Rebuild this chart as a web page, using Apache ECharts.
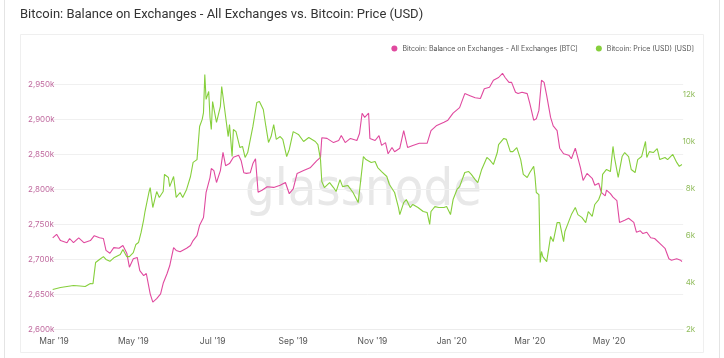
<!DOCTYPE html>
<html><head><meta charset="utf-8">
<script src="https://cdn.jsdelivr.net/npm/echarts@6/dist/echarts.min.js"></script>
<style>html,body{margin:0;padding:0;background:#fff}#c{width:724px;height:358px}</style>
</head><body><div id="c"></div>
<script>
const titleText = 'Bitcoin: Balance on Exchanges - All Exchanges vs. Bitcoin: Price (USD)';
const balanceName = 'Bitcoin: Balance on Exchanges - All Exchanges [BTC]';
const priceName = 'Bitcoin: Price (USD) [USD]';
const watermarkText = 'glassnode';

const balanceDates = ['2019-02-28','2019-03-03','2019-03-06','2019-03-11','2019-03-13','2019-03-16','2019-03-20','2019-03-24','2019-03-29','2019-04-01','2019-04-05','2019-04-08','2019-04-10','2019-04-13','2019-04-16','2019-04-20','2019-04-23','2019-04-26','2019-04-28','2019-05-01','2019-05-04','2019-05-06','2019-05-09','2019-05-11','2019-05-14','2019-05-16','2019-05-19','2019-05-22','2019-05-24','2019-05-27','2019-05-29','2019-06-01','2019-06-03','2019-06-06','2019-06-11','2019-06-14','2019-06-16','2019-06-19','2019-06-21','2019-06-24','2019-06-26','2019-06-29','2019-06-30','2019-07-02','2019-07-04','2019-07-07','2019-07-09','2019-07-11','2019-07-14','2019-07-17','2019-07-21','2019-07-23','2019-07-25','2019-07-27','2019-07-30','2019-08-01','2019-08-03','2019-08-05','2019-08-08','2019-08-12','2019-08-17','2019-08-22','2019-08-26','2019-08-29','2019-09-01','2019-09-04','2019-09-09','2019-09-14','2019-09-19','2019-09-22','2019-09-23','2019-09-27','2019-10-02','2019-10-06','2019-10-08','2019-10-11','2019-10-15','2019-10-20','2019-10-22','2019-10-24','2019-10-26','2019-10-29','2019-10-30','2019-11-03','2019-11-06','2019-11-08','2019-11-11','2019-11-13','2019-11-16','2019-11-18','2019-11-22','2019-11-25','2019-11-28','2019-12-02','2019-12-07','2019-12-13','2019-12-16','2019-12-20','2019-12-26','2019-12-29','2020-01-02','2020-01-07','2020-01-11','2020-01-15','2020-01-19','2020-01-23','2020-01-26','2020-01-30','2020-02-02','2020-02-06','2020-02-09','2020-02-11','2020-02-14','2020-02-16','2020-02-19','2020-02-21','2020-02-24','2020-02-28','2020-03-01','2020-03-04','2020-03-06','2020-03-08','2020-03-10','2020-03-12','2020-03-14','2020-03-17','2020-03-19','2020-03-22','2020-03-24','2020-03-27','2020-03-31','2020-04-02','2020-04-05','2020-04-09','2020-04-11','2020-04-14','2020-04-18','2020-04-20','2020-04-23','2020-04-25','2020-04-28','2020-04-29','2020-05-02','2020-05-04','2020-05-07','2020-05-09','2020-05-13','2020-05-16','2020-05-20','2020-05-22','2020-05-25','2020-05-27','2020-05-30','2020-06-02','2020-06-05','2020-06-09','2020-06-13','2020-06-16','2020-06-18','2020-06-22','2020-06-25','2020-06-26'];
// thousands of BTC
const balanceK = [2731,2736,2727,2724,2730,2724,2731,2724,2727,2734,2731,2730,2713,2709,2717,2716,2720,2709,2689,2701,2703,2684,2677,2680,2651,2639,2644,2651,2666,2680,2691,2717,2713,2711,2716,2720,2727,2734,2749,2760,2796,2817,2830,2827,2810,2827,2853,2834,2837,2846,2849,2841,2824,2823,2824,2837,2844,2796,2799,2804,2803,2806,2810,2794,2801,2823,2827,2831,2841,2846,2874,2873,2867,2870,2877,2867,2873,2870,2880,2909,2903,2909,2873,2870,2877,2863,2867,2851,2860,2854,2859,2884,2860,2863,2866,2866,2884,2891,2896,2899,2909,2917,2937,2934,2931,2930,2944,2946,2956,2960,2966,2960,2953,2953,2939,2937,2939,2937,2923,2899,2901,2913,2956,2953,2934,2903,2891,2884,2859,2851,2849,2844,2859,2831,2813,2823,2816,2806,2809,2796,2791,2799,2794,2789,2784,2753,2756,2759,2753,2739,2741,2737,2739,2731,2730,2723,2716,2701,2699,2701,2699,2697];

const priceDates = ['2019-02-28','2019-03-06','2019-03-11','2019-03-16','2019-03-21','2019-03-25','2019-03-29','2019-03-31','2019-04-02','2019-04-05','2019-04-08','2019-04-10','2019-04-13','2019-04-16','2019-04-21','2019-04-23','2019-04-26','2019-04-28','2019-05-01','2019-05-03','2019-05-05','2019-05-07','2019-05-09','2019-05-10','2019-05-11','2019-05-13','2019-05-14','2019-05-16','2019-05-19','2019-05-21','2019-05-24','2019-05-25','2019-05-28','2019-05-29','2019-06-01','2019-06-03','2019-06-06','2019-06-08','2019-06-11','2019-06-14','2019-06-16','2019-06-19','2019-06-21','2019-06-23','2019-06-24','2019-06-25','2019-06-26','2019-06-28','2019-06-29','2019-06-30','2019-07-01','2019-07-04','2019-07-07','2019-07-08','2019-07-10','2019-07-13','2019-07-14','2019-07-16','2019-07-17','2019-07-19','2019-07-22','2019-07-24','2019-07-26','2019-07-28','2019-08-01','2019-08-04','2019-08-06','2019-08-09','2019-08-11','2019-08-13','2019-08-15','2019-08-17','2019-08-19','2019-08-22','2019-08-24','2019-08-27','2019-08-29','2019-09-01','2019-09-05','2019-09-09','2019-09-13','2019-09-18','2019-09-20','2019-09-22','2019-09-23','2019-09-25','2019-09-29','2019-10-02','2019-10-04','2019-10-07','2019-10-09','2019-10-13','2019-10-17','2019-10-21','2019-10-22','2019-10-25','2019-10-27','2019-10-31','2019-11-03','2019-11-05','2019-11-08','2019-11-12','2019-11-14','2019-11-18','2019-11-21','2019-11-22','2019-11-25','2019-11-27','2019-11-30','2019-12-02','2019-12-06','2019-12-10','2019-12-13','2019-12-15','2019-12-16','2019-12-19','2019-12-22','2019-12-26','2019-12-28','2019-12-31','2020-01-02','2020-01-05','2020-01-07','2020-01-11','2020-01-14','2020-01-16','2020-01-19','2020-01-21','2020-01-24','2020-01-28','2020-01-30','2020-02-02','2020-02-05','2020-02-06','2020-02-10','2020-02-12','2020-02-15','2020-02-17','2020-02-20','2020-02-23','2020-02-25','2020-02-28','2020-03-01','2020-03-04','2020-03-05','2020-03-06','2020-03-08','2020-03-09','2020-03-10','2020-03-11','2020-03-14','2020-03-17','2020-03-19','2020-03-22','2020-03-24','2020-03-27','2020-03-28','2020-03-31','2020-04-02','2020-04-05','2020-04-07','2020-04-10','2020-04-13','2020-04-15','2020-04-18','2020-04-20','2020-04-23','2020-04-25','2020-04-26','2020-04-29','2020-05-02','2020-05-04','2020-05-05','2020-05-08','2020-05-11','2020-05-13','2020-05-16','2020-05-18','2020-05-21','2020-05-23','2020-05-26','2020-05-29','2020-05-30','2020-06-01','2020-06-04','2020-06-07','2020-06-09','2020-06-13','2020-06-15','2020-06-19','2020-06-22','2020-06-24','2020-06-26'];
const priceUSD = [3700,3790,3830,3870,3850,3830,3960,3950,4850,4980,5100,4980,4900,5050,5190,5400,5100,5100,5270,5620,5700,6130,6680,7020,7020,7830,8040,7190,7870,7620,7870,8600,8470,8080,8510,7620,7830,7620,7960,8510,9110,9230,10640,10940,11230,12850,11790,12130,11020,10510,11700,10810,11490,12340,11490,10210,10720,9360,10510,10420,9740,9790,9320,9530,10640,11660,11700,11360,10640,9960,10210,10720,10090,10210,10090,9360,9660,10420,10300,10000,10170,10000,9870,9230,8300,8040,8250,8040,7870,8380,8080,8130,7830,7400,7450,9360,9230,9110,9150,8890,8720,8510,8170,7830,7190,6890,7400,7530,7190,7320,7190,7020,6980,6470,7020,7230,7190,7190,7230,6890,7530,7960,8080,8680,8720,8600,8380,8250,8810,9320,9230,9020,9530,9870,10130,10090,9570,9570,9740,9230,8600,8470,8680,8940,8510,7830,7740,4850,5320,5100,4890,5960,5740,6550,6550,5740,6170,6600,6890,7190,6890,6770,6550,7020,6810,7320,7530,7830,8600,8810,8720,9790,9360,8470,9360,9530,9360,8810,8680,9230,9360,10000,9320,9570,9530,9700,9230,9320,9230,9450,9110,8940,9020];

const xTickDates = ['2019-03-01','2019-05-01','2019-07-01','2019-09-01','2019-11-01','2020-01-01','2020-03-01','2020-05-01'];
const xTickLabels = ["Mar '19","May '19","Jul '19","Sep '19","Nov '19","Jan '20","Mar '20","May '20"];
const xRange = ['2019-02-27','2020-06-27'];
const leftTicks = {min: 2600, interval: 50};
const rightTicks = {min: 2000, interval: 2000};

const P = s => echarts.number.parseDate(s).getTime();
const tickTs = xTickDates.map(P);
const labelOf = {};
tickTs.forEach((t, i) => { labelOf[t] = xTickLabels[i]; });

const gridTop = 59.5, gridBottomPx = 329.5, gridLeft = 51.4, gridRightPx = 683.2;
const plotH = gridBottomPx - gridTop;
const leftMax = leftTicks.min + plotH / 0.7;          // 35px per 50k
const rightMax = rightTicks.min + plotH * 2000 / 47;  // 47px per 2k

const FONT = 'Inter, "Noto Sans", sans-serif';
const chart = echarts.init(document.getElementById('c'), null, {renderer: 'canvas'});
chart.setOption({
  animation: false,
  backgroundColor: '#fff',
  textStyle: {fontFamily: FONT},
  title: {
    text: titleText, left: 15, top: 3,
    textStyle: {fontSize: 13, fontWeight: 'normal', color: '#333', fontFamily: 'Roboto, sans-serif'}
  },
  legend: {
    right: 25, top: 40, icon: 'circle', itemWidth: 6, itemHeight: 6, itemGap: 18,
    textStyle: {fontSize: 7, color: '#555', fontFamily: FONT},
    data: [balanceName, priceName]
  },
  graphic: [
    {type: 'rect', silent: true, z: -10, shape: {x: 20.5, y: 34.5, width: 683, height: 318},
      style: {fill: 'none', stroke: '#efefef', lineWidth: 1}},
    {type: 'line', silent: true, z: -10, shape: {x1: 4.5, y1: 0, x2: 4.5, y2: 358}, style: {stroke: '#e4e4e4', lineWidth: 1}},
    {type: 'line', silent: true, z: -10, shape: {x1: 719.5, y1: 0, x2: 719.5, y2: 358}, style: {stroke: '#e4e4e4', lineWidth: 1}},
    {type: 'text', silent: true, z: -5, left: 245, top: 165,
      style: {text: watermarkText, font: '52px "DejaVu Sans Condensed", sans-serif', fill: '#e8e8e8'}}
  ],
  grid: {left: gridLeft, right: 724 - gridRightPx, top: gridTop, bottom: 358 - gridBottomPx, containLabel: false},
  xAxis: {
    type: 'value', min: P(xRange[0]), max: P(xRange[1]),
    axisLine: {show: true, lineStyle: {color: '#ececec'}},
    axisTick: {show: false},
    splitLine: {show: false},
    axisLabel: {
      customValues: tickTs, margin: 7, fontSize: 8.5, color: '#555', fontFamily: FONT,
      formatter: v => labelOf[v] || ''
    }
  },
  yAxis: [
    {
      type: 'value', position: 'left', min: leftTicks.min, max: leftMax, interval: leftTicks.interval,
      axisLine: {show: false}, axisTick: {show: false},
      splitLine: {show: true, showMaxLine: false, lineStyle: {color: '#f0f0f0'}},
      axisLabel: {
        showMaxLabel: false, align: 'left', margin: gridLeft - 28, fontSize: 8, color: '#c06a9f', fontFamily: FONT,
        formatter: v => (v / 1000).toFixed(3).replace('.', ',') + 'k'
      }
    },
    {
      type: 'value', position: 'right', min: rightTicks.min, max: rightMax, interval: rightTicks.interval,
      axisLine: {show: false}, axisTick: {show: false}, splitLine: {show: false},
      axisLabel: {
        showMaxLabel: false, align: 'right', margin: 12, fontSize: 8, color: '#92bd5e', fontFamily: FONT,
        formatter: v => (v / 1000) + 'k'
      }
    }
  ],
  series: [
    {
      name: balanceName, type: 'line', yAxisIndex: 0, showSymbol: false, symbol: 'circle',
      itemStyle: {color: '#e04a9f'}, lineStyle: {color: '#e04a9f', width: 1.1},
      data: balanceDates.map((d, i) => [P(d), balanceK[i]])
    },
    {
      name: priceName, type: 'line', yAxisIndex: 1, showSymbol: false, symbol: 'circle',
      itemStyle: {color: '#86cf3c'}, lineStyle: {color: '#86cf3c', width: 1.1},
      data: priceDates.map((d, i) => [P(d), priceUSD[i]])
    }
  ]
});
</script></body></html>
